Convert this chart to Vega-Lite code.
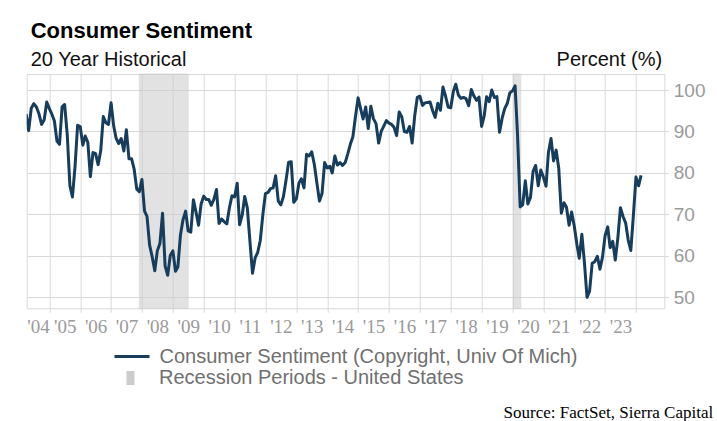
{
  "$schema": "https://vega.github.io/schema/vega-lite/v6.json",
  "width": 637.6,
  "height": 234.3,
  "autosize": {"type": "none"},
  "padding": {"left": 26.7, "top": 74, "right": 52.7, "bottom": 112.7},
  "background": "white",
  "config": {
    "view": {"stroke": "#d9d9d9", "strokeWidth": 1},
    "font": "Liberation Sans",
    "legend": {
      "orient": "none",
      "title": null,
      "padding": 0,
      "symbolSize": 400,
      "labelOffset": 19,
      "labelLimit": 0,
      "labelFont": "Liberation Sans",
      "labelFontSize": 20,
      "labelColor": "#707070",
      "symbolOpacity": 1
    }
  },
  "title": {
    "text": "Consumer Sentiment",
    "subtitle": "20 Year Historical",
    "anchor": "start",
    "frame": "group",
    "dx": 4,
    "offset": -22,
    "font": "Liberation Sans",
    "fontSize": 22,
    "fontWeight": "bold",
    "color": "#000000",
    "subtitleFont": "Liberation Sans",
    "subtitleFontSize": 20,
    "subtitleColor": "#111111",
    "subtitlePadding": 7
  },
  "datasets": {
    "recessions": [
      {"start": "2007-12-01", "end": "2009-06-30"},
      {"start": "2020-01-12", "end": "2020-04-08"}
    ],
    "sentiment": [
      {"d": "2004-04-01", "v": 94.2}, {"d": "2004-05-01", "v": 90.2}, {"d": "2004-06-01", "v": 95.6}, {"d": "2004-07-01", "v": 96.7}, {"d": "2004-08-01", "v": 95.9}, {"d": "2004-09-01", "v": 94.2}, {"d": "2004-10-01", "v": 91.7}, {"d": "2004-11-01", "v": 92.8}, {"d": "2004-12-01", "v": 97.1},
      {"d": "2005-01-01", "v": 95.5}, {"d": "2005-02-01", "v": 94.1}, {"d": "2005-03-01", "v": 92.6}, {"d": "2005-04-01", "v": 87.7}, {"d": "2005-05-01", "v": 86.9}, {"d": "2005-06-01", "v": 96.0}, {"d": "2005-07-01", "v": 96.5}, {"d": "2005-08-01", "v": 89.1}, {"d": "2005-09-01", "v": 76.9}, {"d": "2005-10-01", "v": 74.2}, {"d": "2005-11-01", "v": 81.6}, {"d": "2005-12-01", "v": 91.5},
      {"d": "2006-01-01", "v": 91.2}, {"d": "2006-02-01", "v": 86.7}, {"d": "2006-03-01", "v": 88.9}, {"d": "2006-04-01", "v": 87.4}, {"d": "2006-05-01", "v": 79.1}, {"d": "2006-06-01", "v": 84.9}, {"d": "2006-07-01", "v": 84.7}, {"d": "2006-08-01", "v": 82.0}, {"d": "2006-09-01", "v": 85.4}, {"d": "2006-10-01", "v": 93.6}, {"d": "2006-11-01", "v": 92.1}, {"d": "2006-12-01", "v": 91.7},
      {"d": "2007-01-01", "v": 96.9}, {"d": "2007-02-01", "v": 91.3}, {"d": "2007-03-01", "v": 88.4}, {"d": "2007-04-01", "v": 87.1}, {"d": "2007-05-01", "v": 88.3}, {"d": "2007-06-01", "v": 85.3}, {"d": "2007-07-01", "v": 90.4}, {"d": "2007-08-01", "v": 83.4}, {"d": "2007-09-01", "v": 83.4}, {"d": "2007-10-01", "v": 80.9}, {"d": "2007-11-01", "v": 76.1}, {"d": "2007-12-01", "v": 75.5},
      {"d": "2008-01-01", "v": 78.4}, {"d": "2008-02-01", "v": 70.8}, {"d": "2008-03-01", "v": 69.5}, {"d": "2008-04-01", "v": 62.6}, {"d": "2008-05-01", "v": 59.8}, {"d": "2008-06-01", "v": 56.4}, {"d": "2008-07-01", "v": 61.2}, {"d": "2008-08-01", "v": 63.0}, {"d": "2008-09-01", "v": 70.3}, {"d": "2008-10-01", "v": 57.6}, {"d": "2008-11-01", "v": 55.3}, {"d": "2008-12-01", "v": 60.1},
      {"d": "2009-01-01", "v": 61.2}, {"d": "2009-02-01", "v": 56.3}, {"d": "2009-03-01", "v": 57.3}, {"d": "2009-04-01", "v": 65.1}, {"d": "2009-05-01", "v": 68.7}, {"d": "2009-06-01", "v": 70.8}, {"d": "2009-07-01", "v": 66.0}, {"d": "2009-08-01", "v": 65.7}, {"d": "2009-09-01", "v": 73.5}, {"d": "2009-10-01", "v": 70.6}, {"d": "2009-11-01", "v": 67.4}, {"d": "2009-12-01", "v": 72.5},
      {"d": "2010-01-01", "v": 74.4}, {"d": "2010-02-01", "v": 73.6}, {"d": "2010-03-01", "v": 73.6}, {"d": "2010-04-01", "v": 72.2}, {"d": "2010-05-01", "v": 73.6}, {"d": "2010-06-01", "v": 76.0}, {"d": "2010-07-01", "v": 67.8}, {"d": "2010-08-01", "v": 68.9}, {"d": "2010-09-01", "v": 68.2}, {"d": "2010-10-01", "v": 67.7}, {"d": "2010-11-01", "v": 71.6}, {"d": "2010-12-01", "v": 74.5},
      {"d": "2011-01-01", "v": 74.2}, {"d": "2011-02-01", "v": 77.5}, {"d": "2011-03-01", "v": 67.5}, {"d": "2011-04-01", "v": 69.8}, {"d": "2011-05-01", "v": 74.3}, {"d": "2011-06-01", "v": 71.5}, {"d": "2011-07-01", "v": 63.7}, {"d": "2011-08-01", "v": 55.8}, {"d": "2011-09-01", "v": 59.5}, {"d": "2011-10-01", "v": 60.8}, {"d": "2011-11-01", "v": 63.7}, {"d": "2011-12-01", "v": 69.9},
      {"d": "2012-01-01", "v": 75.0}, {"d": "2012-02-01", "v": 75.3}, {"d": "2012-03-01", "v": 76.2}, {"d": "2012-04-01", "v": 76.4}, {"d": "2012-05-01", "v": 79.3}, {"d": "2012-06-01", "v": 73.2}, {"d": "2012-07-01", "v": 72.3}, {"d": "2012-08-01", "v": 74.3}, {"d": "2012-09-01", "v": 78.3}, {"d": "2012-10-01", "v": 82.6}, {"d": "2012-11-01", "v": 82.7}, {"d": "2012-12-01", "v": 72.9},
      {"d": "2013-01-01", "v": 73.8}, {"d": "2013-02-01", "v": 77.6}, {"d": "2013-03-01", "v": 78.6}, {"d": "2013-04-01", "v": 76.4}, {"d": "2013-05-01", "v": 84.5}, {"d": "2013-06-01", "v": 84.1}, {"d": "2013-07-01", "v": 85.1}, {"d": "2013-08-01", "v": 82.1}, {"d": "2013-09-01", "v": 77.5}, {"d": "2013-10-01", "v": 73.2}, {"d": "2013-11-01", "v": 75.1}, {"d": "2013-12-01", "v": 82.5},
      {"d": "2014-01-01", "v": 81.2}, {"d": "2014-02-01", "v": 81.6}, {"d": "2014-03-01", "v": 80.0}, {"d": "2014-04-01", "v": 84.1}, {"d": "2014-05-01", "v": 81.9}, {"d": "2014-06-01", "v": 82.5}, {"d": "2014-07-01", "v": 81.8}, {"d": "2014-08-01", "v": 82.5}, {"d": "2014-09-01", "v": 84.6}, {"d": "2014-10-01", "v": 86.9}, {"d": "2014-11-01", "v": 88.8}, {"d": "2014-12-01", "v": 93.6},
      {"d": "2015-01-01", "v": 98.1}, {"d": "2015-02-01", "v": 95.4}, {"d": "2015-03-01", "v": 93.0}, {"d": "2015-04-01", "v": 95.9}, {"d": "2015-05-01", "v": 90.7}, {"d": "2015-06-01", "v": 96.1}, {"d": "2015-07-01", "v": 93.1}, {"d": "2015-08-01", "v": 91.9}, {"d": "2015-09-01", "v": 87.2}, {"d": "2015-10-01", "v": 90.0}, {"d": "2015-11-01", "v": 91.3}, {"d": "2015-12-01", "v": 92.6},
      {"d": "2016-01-01", "v": 92.0}, {"d": "2016-02-01", "v": 91.7}, {"d": "2016-03-01", "v": 91.0}, {"d": "2016-04-01", "v": 89.0}, {"d": "2016-05-01", "v": 94.7}, {"d": "2016-06-01", "v": 93.5}, {"d": "2016-07-01", "v": 90.0}, {"d": "2016-08-01", "v": 89.8}, {"d": "2016-09-01", "v": 91.2}, {"d": "2016-10-01", "v": 87.2}, {"d": "2016-11-01", "v": 93.8}, {"d": "2016-12-01", "v": 98.2},
      {"d": "2017-01-01", "v": 98.5}, {"d": "2017-02-01", "v": 96.3}, {"d": "2017-03-01", "v": 96.9}, {"d": "2017-04-01", "v": 97.0}, {"d": "2017-05-01", "v": 97.1}, {"d": "2017-06-01", "v": 95.0}, {"d": "2017-07-01", "v": 93.4}, {"d": "2017-08-01", "v": 96.8}, {"d": "2017-09-01", "v": 95.1}, {"d": "2017-10-01", "v": 100.7}, {"d": "2017-11-01", "v": 98.5}, {"d": "2017-12-01", "v": 95.9},
      {"d": "2018-01-01", "v": 95.7}, {"d": "2018-02-01", "v": 99.7}, {"d": "2018-03-01", "v": 101.4}, {"d": "2018-04-01", "v": 98.8}, {"d": "2018-05-01", "v": 98.0}, {"d": "2018-06-01", "v": 98.2}, {"d": "2018-07-01", "v": 97.9}, {"d": "2018-08-01", "v": 96.2}, {"d": "2018-09-01", "v": 100.1}, {"d": "2018-10-01", "v": 98.6}, {"d": "2018-11-01", "v": 97.5}, {"d": "2018-12-01", "v": 98.3},
      {"d": "2019-01-01", "v": 91.2}, {"d": "2019-02-01", "v": 93.8}, {"d": "2019-03-01", "v": 98.4}, {"d": "2019-04-01", "v": 97.2}, {"d": "2019-05-01", "v": 100.0}, {"d": "2019-06-01", "v": 98.2}, {"d": "2019-07-01", "v": 98.4}, {"d": "2019-08-01", "v": 89.8}, {"d": "2019-09-01", "v": 93.2}, {"d": "2019-10-01", "v": 95.5}, {"d": "2019-11-01", "v": 96.8}, {"d": "2019-12-01", "v": 99.3},
      {"d": "2020-01-01", "v": 99.8}, {"d": "2020-02-01", "v": 101.0}, {"d": "2020-03-01", "v": 89.1}, {"d": "2020-04-01", "v": 71.8}, {"d": "2020-05-01", "v": 72.3}, {"d": "2020-06-01", "v": 78.1}, {"d": "2020-07-01", "v": 72.5}, {"d": "2020-08-01", "v": 74.1}, {"d": "2020-09-01", "v": 80.4}, {"d": "2020-10-01", "v": 81.8}, {"d": "2020-11-01", "v": 76.9}, {"d": "2020-12-01", "v": 80.7},
      {"d": "2021-01-01", "v": 79.0}, {"d": "2021-02-01", "v": 76.8}, {"d": "2021-03-01", "v": 84.9}, {"d": "2021-04-01", "v": 88.3}, {"d": "2021-05-01", "v": 82.9}, {"d": "2021-06-01", "v": 85.5}, {"d": "2021-07-01", "v": 81.2}, {"d": "2021-08-01", "v": 70.3}, {"d": "2021-09-01", "v": 72.8}, {"d": "2021-10-01", "v": 71.7}, {"d": "2021-11-01", "v": 67.4}, {"d": "2021-12-01", "v": 70.6},
      {"d": "2022-01-01", "v": 67.2}, {"d": "2022-02-01", "v": 62.8}, {"d": "2022-03-01", "v": 59.4}, {"d": "2022-04-01", "v": 65.2}, {"d": "2022-05-01", "v": 58.4}, {"d": "2022-06-01", "v": 50.0}, {"d": "2022-07-01", "v": 51.5}, {"d": "2022-08-01", "v": 58.2}, {"d": "2022-09-01", "v": 58.6}, {"d": "2022-10-01", "v": 59.9}, {"d": "2022-11-01", "v": 56.8}, {"d": "2022-12-01", "v": 59.7},
      {"d": "2023-01-01", "v": 64.9}, {"d": "2023-02-01", "v": 67.0}, {"d": "2023-03-01", "v": 62.0}, {"d": "2023-04-01", "v": 63.5}, {"d": "2023-05-01", "v": 59.0}, {"d": "2023-06-01", "v": 64.4}, {"d": "2023-07-01", "v": 71.6}, {"d": "2023-08-01", "v": 69.5}, {"d": "2023-09-01", "v": 67.9}, {"d": "2023-10-01", "v": 63.8}, {"d": "2023-11-01", "v": 61.3}, {"d": "2023-12-01", "v": 69.7},
      {"d": "2024-01-01", "v": 79.0}, {"d": "2024-02-01", "v": 76.9}, {"d": "2024-03-01", "v": 79.4}
    ]
  },
  "layer": [
    {
      "data": {"name": "recessions"},
      "mark": {"type": "rect", "opacity": 0.55, "stroke": "#c4c4c4", "strokeWidth": 1},
      "encoding": {
        "x": {
          "field": "start",
          "type": "temporal",
          "scale": {
            "type": "utc",
            "domain": [
              {"year": 2004, "month": 4, "date": 8, "utc": true},
              {"year": 2024, "month": 12, "date": 1, "utc": true}
            ]
          },
          "axis": {
            "orient": "bottom",
            "values": [
              {"year": 2005, "month": 1, "date": 1, "utc": true},
              {"year": 2006, "month": 1, "date": 1, "utc": true},
              {"year": 2007, "month": 1, "date": 1, "utc": true},
              {"year": 2008, "month": 1, "date": 1, "utc": true},
              {"year": 2009, "month": 1, "date": 1, "utc": true},
              {"year": 2010, "month": 1, "date": 1, "utc": true},
              {"year": 2011, "month": 1, "date": 1, "utc": true},
              {"year": 2012, "month": 1, "date": 1, "utc": true},
              {"year": 2013, "month": 1, "date": 1, "utc": true},
              {"year": 2014, "month": 1, "date": 1, "utc": true},
              {"year": 2015, "month": 1, "date": 1, "utc": true},
              {"year": 2016, "month": 1, "date": 1, "utc": true},
              {"year": 2017, "month": 1, "date": 1, "utc": true},
              {"year": 2018, "month": 1, "date": 1, "utc": true},
              {"year": 2019, "month": 1, "date": 1, "utc": true},
              {"year": 2020, "month": 1, "date": 1, "utc": true},
              {"year": 2021, "month": 1, "date": 1, "utc": true},
              {"year": 2022, "month": 1, "date": 1, "utc": true},
              {"year": 2023, "month": 1, "date": 1, "utc": true},
              {"year": 2024, "month": 1, "date": 1, "utc": true}
            ],
            "grid": true,
            "gridColor": "#d9d9d9",
            "gridWidth": 1,
            "ticks": true,
            "tickSize": 4,
            "tickColor": "#d9d9d9",
            "labels": false,
            "domain": false,
            "title": null
          }
        },
        "x2": {"field": "end"},
        "fill": {
          "datum": "Recession Periods - United States",
          "type": "nominal",
          "scale": {"range": ["#cccccc"]},
          "legend": {
            "legendX": 93.8,
            "legendY": 294,
            "labelOffset": 18.5,
            "symbolType": "M-0.4,-0.7H0.4V0.7H-0.4Z",
            "symbolFillColor": "#cccccc",
            "symbolStrokeWidth": 0
          }
        }
      }
    },
    {
      "data": {"name": "sentiment"},
      "mark": {"type": "line", "strokeWidth": 3, "clip": true, "strokeJoin": "round"},
      "encoding": {
        "x": {
          "field": "d",
          "type": "temporal",
          "axis": {
            "orient": "bottom",
            "values": [
              {"year": 2004, "month": 8, "date": 19, "utc": true},
              {"year": 2005, "month": 7, "date": 2, "utc": true},
              {"year": 2006, "month": 7, "date": 2, "utc": true},
              {"year": 2007, "month": 7, "date": 2, "utc": true},
              {"year": 2008, "month": 7, "date": 2, "utc": true},
              {"year": 2009, "month": 7, "date": 2, "utc": true},
              {"year": 2010, "month": 7, "date": 2, "utc": true},
              {"year": 2011, "month": 7, "date": 2, "utc": true},
              {"year": 2012, "month": 7, "date": 2, "utc": true},
              {"year": 2013, "month": 7, "date": 2, "utc": true},
              {"year": 2014, "month": 7, "date": 2, "utc": true},
              {"year": 2015, "month": 7, "date": 2, "utc": true},
              {"year": 2016, "month": 7, "date": 2, "utc": true},
              {"year": 2017, "month": 7, "date": 2, "utc": true},
              {"year": 2018, "month": 7, "date": 2, "utc": true},
              {"year": 2019, "month": 7, "date": 2, "utc": true},
              {"year": 2020, "month": 7, "date": 2, "utc": true},
              {"year": 2021, "month": 7, "date": 2, "utc": true},
              {"year": 2022, "month": 7, "date": 2, "utc": true},
              {"year": 2023, "month": 7, "date": 2, "utc": true}
            ],
            "format": "'%y",
            "grid": false,
            "ticks": false,
            "tickSize": 0,
            "domain": false,
            "labelFont": "Liberation Sans Narrow",
            "labelFontSize": 19,
            "labelColor": "#9a9a9a",
            "labelPadding": 24,
            "labelBaseline": "alphabetic",
            "labelOverlap": false,
            "labelBound": false,
            "labelFlush": false,
            "title": "Source: FactSet, Sierra Capital",
            "titleFont": "Liberation Serif",
            "titleFontSize": 17,
            "titleFontWeight": "normal",
            "titleColor": "#000000",
            "titleAlign": "right",
            "titleBaseline": "alphabetic",
            "titleX": 686,
            "titleY": 109
          }
        },
        "y": {
          "field": "v",
          "type": "quantitative",
          "scale": {"domain": [47.35, 103.86], "nice": false, "zero": false},
          "axis": {
            "orient": "right",
            "values": [50, 60, 70, 80, 90, 100],
            "grid": true,
            "gridColor": "#d9d9d9",
            "gridWidth": 1,
            "ticks": true,
            "tickSize": 4,
            "tickColor": "#d9d9d9",
            "domain": false,
            "labelFont": "Liberation Sans",
            "labelFontSize": 19,
            "labelColor": "#9a9a9a",
            "labelPadding": 5,
            "title": "Percent (%)",
            "titleAngle": 0,
            "titleAlign": "right",
            "titleBaseline": "alphabetic",
            "titleX": -2.6,
            "titleY": -9,
            "titleFont": "Liberation Sans",
            "titleFontSize": 20,
            "titleFontWeight": "normal",
            "titleColor": "#111111"
          }
        },
        "stroke": {
          "datum": "Consumer Sentiment (Copyright, Univ Of Mich)",
          "type": "nominal",
          "scale": {"range": ["#173d5d"]},
          "legend": {
            "legendX": 93.8,
            "legendY": 271,
            "labelOffset": 16,
            "symbolType": "M-1.75,0H1.75",
            "symbolStrokeWidth": 3,
            "symbolStrokeColor": "#173d5d",
            "symbolFillColor": "transparent"
          }
        }
      }
    }
  ],
  "resolve": {"axis": {"x": "independent"}}
}
